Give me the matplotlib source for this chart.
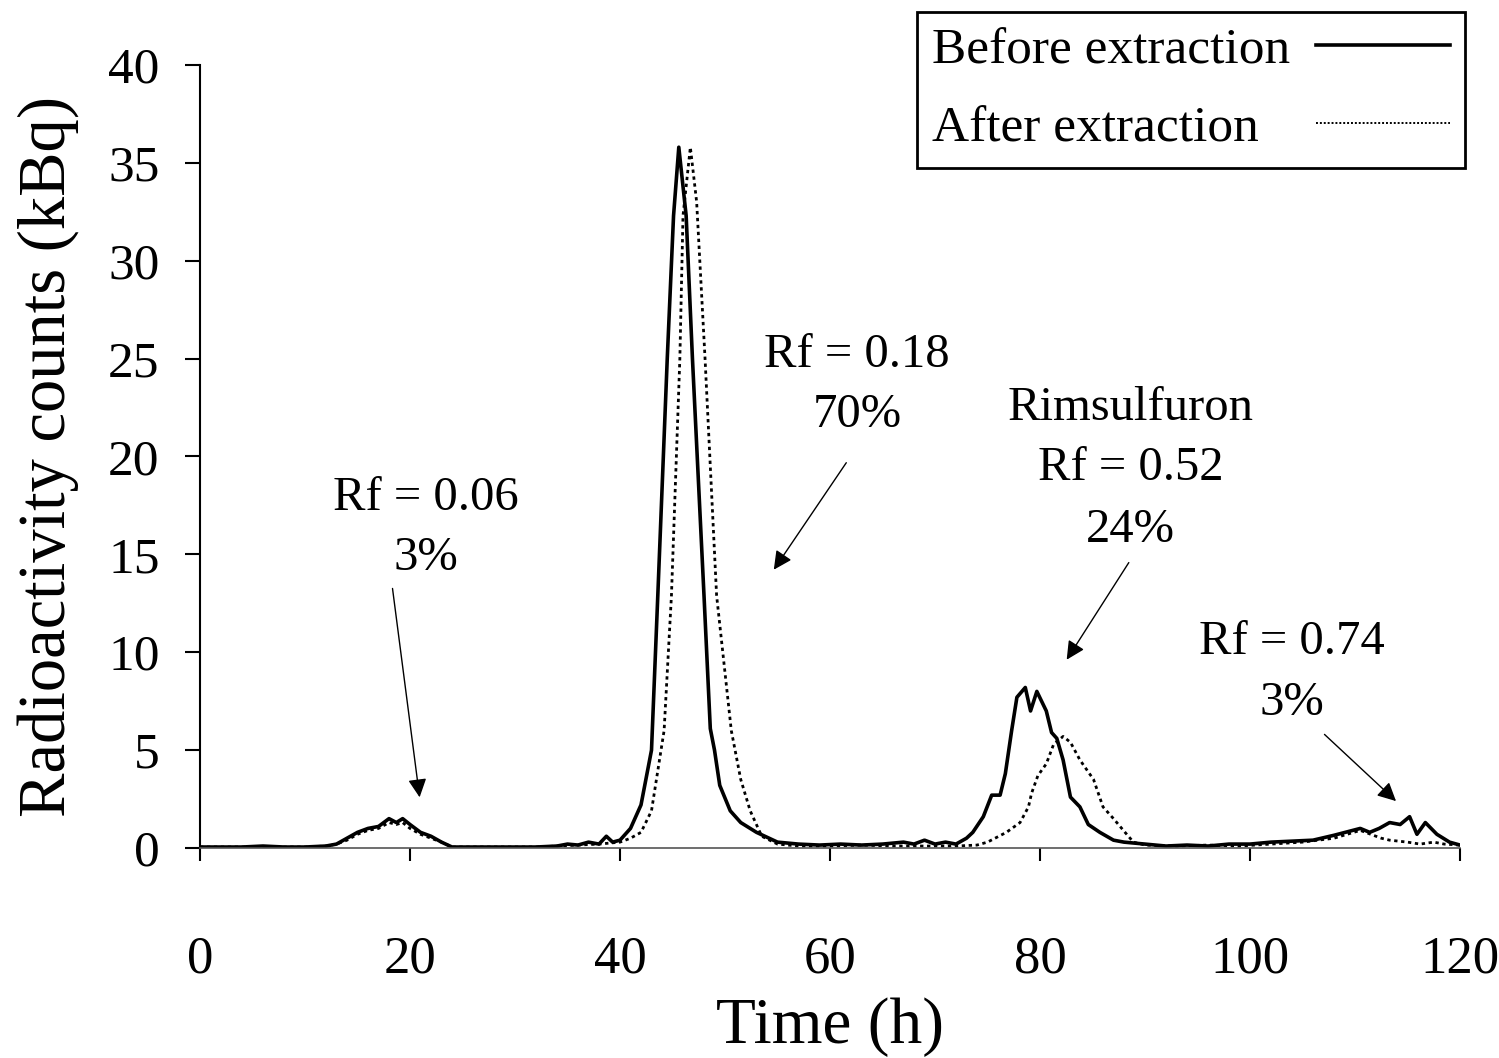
import matplotlib
matplotlib.use('Agg')

import matplotlib.pyplot as plt

plt.rcParams['font.family'] = ['Liberation Serif', 'DejaVu Serif']

# radioactivity scan, before extraction (solid)
t_before = [0, 2, 4, 6, 8, 10, 12, 13, 14, 15, 16, 17, 18, 18.7, 19.3, 20, 21, 22, 23, 24,
            26, 28, 30, 32, 34, 35, 36, 37, 38, 38.7, 39.3, 40, 41, 42, 43, 43.6, 44.5, 45.1,
            45.6, 46.3, 46.9, 48.0, 48.6, 49.0, 49.5, 50.5, 51.5, 53, 55, 57, 59, 61, 63, 65,
            67, 68, 69, 70, 71, 72, 73, 73.6, 74.6, 75.4, 76.2, 76.7, 77.3, 77.8, 78.6, 79.1,
            79.7, 80.6, 81.1, 81.6, 82.2, 82.9, 83.8, 84.6, 85.7, 87.0, 88, 90, 92, 94, 96, 98,
            100, 102, 104, 106, 108, 110.5, 111.4, 112.3, 113.3, 114.3, 115.2, 115.9, 116.7,
            117.8, 119, 120]
v_before = [0.05, 0.05, 0.05, 0.1, 0.05, 0.05, 0.1, 0.2, 0.5, 0.8, 1.0, 1.1, 1.5, 1.3, 1.5, 1.2,
            0.8, 0.6, 0.3, 0.05, 0.05, 0.05, 0.05, 0.05, 0.1, 0.2, 0.15, 0.3, 0.2, 0.6, 0.3, 0.4,
            1.0, 2.2, 5.0, 12.9, 25.0, 32.3, 35.8, 32.3, 25.0, 12.9, 6.1, 5.0, 3.2, 1.9, 1.3,
            0.8, 0.3, 0.2, 0.15, 0.2, 0.15, 0.2, 0.3, 0.2, 0.4, 0.2, 0.3, 0.2, 0.5, 0.8, 1.6,
            2.7, 2.7, 3.8, 6.0, 7.7, 8.2, 7.0, 8.0, 7.0, 5.9, 5.6, 4.5, 2.6, 2.1, 1.2, 0.8, 0.4,
            0.3, 0.2, 0.1, 0.15, 0.1, 0.2, 0.2, 0.3, 0.35, 0.4, 0.65, 1.0, 0.8, 1.0, 1.3, 1.2,
            1.6, 0.7, 1.3, 0.7, 0.3, 0.15]

# after extraction (dotted)
t_after = [0, 2, 4, 6, 8, 10, 12, 13, 14, 15, 16, 17, 18, 18.7, 19.3, 20, 21, 22, 23, 24,
           26, 28, 30, 32, 34, 36, 38, 40, 41, 42, 43, 44.2, 44.9, 45.7, 46.0, 46.7, 47.3,
           48.1, 49.2, 50.6, 51.5, 52.4, 53.5, 55, 57, 60, 63, 66, 69, 72, 74, 75, 76.8, 78.1,
           78.9, 79.2, 79.8, 80.6, 81.3, 82.2, 82.9, 83.8, 85.1, 86.0, 87.0, 88.1, 88.9, 90,
           93, 96, 99, 102, 105, 108, 110.5, 111.5, 112.5, 113.3, 115, 116.2, 117.5, 118.5, 120]
v_after = [0.05, 0.05, 0.05, 0.05, 0.05, 0.05, 0.1, 0.2, 0.4, 0.7, 0.9, 1.0, 1.3, 1.2, 1.3, 1.0,
           0.7, 0.5, 0.3, 0.05, 0.05, 0.05, 0.05, 0.05, 0.1, 0.15, 0.2, 0.3, 0.5, 0.8, 1.9,
           6.0, 12.9, 25.0, 32.3, 35.8, 33.0, 25.0, 12.9, 6.0, 3.5, 1.9, 0.6, 0.2, 0.1, 0.1,
           0.15, 0.1, 0.1, 0.1, 0.15, 0.3, 0.8, 1.3, 2.1, 2.8, 3.7, 4.3, 5.3, 5.7, 5.4, 4.5,
           3.5, 2.1, 1.5, 0.8, 0.3, 0.15, 0.1, 0.15, 0.1, 0.2, 0.3, 0.5, 0.9, 0.7, 0.5, 0.4,
           0.3, 0.2, 0.3, 0.2, 0.15]

# peak labels: (text lines, x centre, y of each line, arrow start, arrow end)
labels = [
    (["Rf = 0.06", "3%"], 21.5, [17.9, 14.8], (18.3, 13.4), (20.95, 2.45)),
    (["Rf = 0.18", "70%"], 62.6, [25.2, 22.1], (61.7, 19.8), (54.5, 14.1)),
    (["Rimsulfuron", "Rf = 0.52", "24%"], 88.6, [22.5, 19.4, 16.25], (88.6, 14.7), (82.4, 9.5)),
    (["Rf = 0.74", "3%"], 104.0, [10.5, 7.4], (106.9, 5.9), (114.1, 2.3)),
]

fig = plt.figure(figsize=(14.99, 10.58), dpi=100)
ax = fig.add_axes([200 / 1499, 1 - 848 / 1058, 1260 / 1499, 783 / 1058])

ax.plot(t_before, v_before, color='black', lw=2.6, label='Before extraction')
ax.plot(t_after, v_after, color='black', lw=2.0, ls=(0, (1.2, 1.3)), label='After extraction')

for lines, xc, ys, start, end in labels:
    for line, y in zip(lines, ys):
        ax.text(xc, y, line, ha='center', va='center', fontsize=35)
    ax.annotate('', xy=end, xytext=start,
                arrowprops=dict(arrowstyle='-|>', color='black', lw=1.0, mutation_scale=28))

ax.set_xlim(0, 120)
ax.set_ylim(0, 40)
ax.set_xticks(range(0, 121, 20))
ax.set_yticks(range(0, 41, 5))
ax.spines['top'].set_visible(False)
ax.spines['right'].set_visible(False)
ax.spines['left'].set_linewidth(1.5)
ax.spines['bottom'].set_linewidth(1.2)
ax.spines['bottom'].set_color('#555555')
ax.tick_params(axis='y', direction='out', length=11, width=1.5, labelsize=37, pad=18)
ax.tick_params(axis='x', direction='out', length=9, width=1.5, labelsize=38, pad=54)

ax.set_xlabel('Time (h)', fontsize=47, labelpad=10)
ax.set_ylabel('Radioactivity counts (kBq)', fontsize=48, labelpad=21)

leg = ax.legend(loc='upper right', bbox_to_anchor=(1465 / 1499, 1 - 12 / 1058),
                bbox_transform=fig.transFigure, borderaxespad=0, fontsize=37,
                markerfirst=False, handlelength=2.6, handletextpad=0.5,
                fancybox=False, framealpha=1, edgecolor='black', labelspacing=0.6,
                borderpad=0.3)
leg.get_frame().set_linewidth(2.0)
leg.get_lines()[1].set_linestyle((0, (1, 1)))
leg.get_lines()[1].set_linewidth(1.4)

# left-align the legend labels (handles sit on the right)
fig.canvas.draw()
texts = leg.get_texts()
x_first = texts[0].get_window_extent().x0
for txt in texts[1:]:
    shift = txt.get_window_extent().x0 - x_first
    txt.set_x(txt.get_position()[0] - shift)

plt.savefig('out.png', dpi=100)
